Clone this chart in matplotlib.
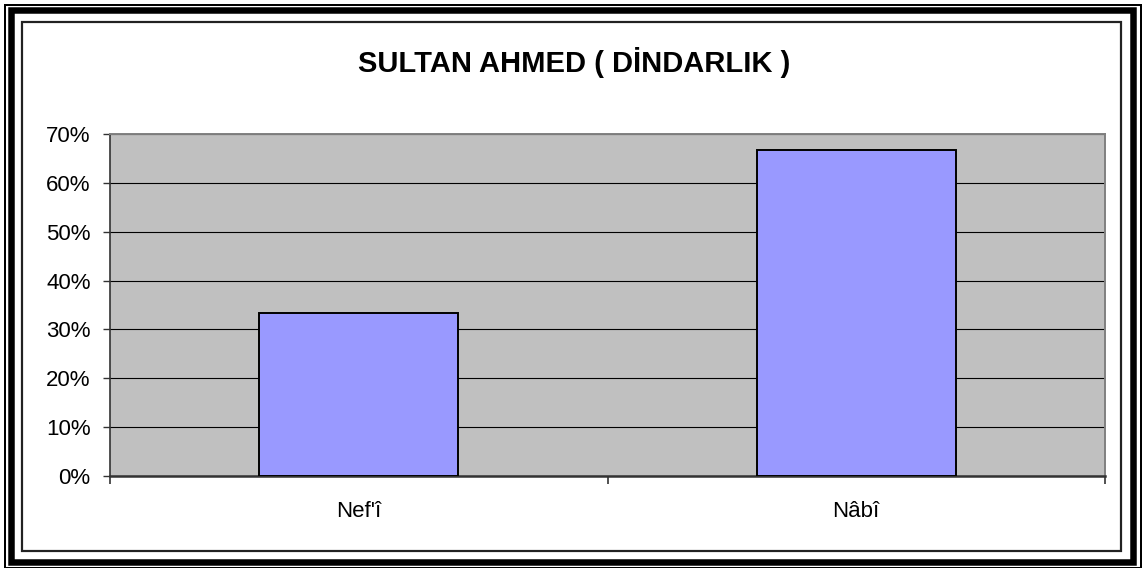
import matplotlib
matplotlib.use("Agg")
import matplotlib.pyplot as plt
from matplotlib.patches import Rectangle

categories = ["Nef'î", "Nâbî"]
values = [0.3333, 0.6667]
yticks = [0, 0.1, 0.2, 0.3, 0.4, 0.5, 0.6, 0.7]
ytick_labels = ["0%", "10%", "20%", "30%", "40%", "50%", "60%", "70%"]
title = "SULTAN AHMED ( DİNDARLIK )"

W, H = 1148, 568
plt.rcParams['font.family'] = ['Liberation Sans', 'DejaVu Sans']
fig = plt.figure(figsize=(W / 100, H / 100), dpi=100)

def rect(x0, y0, x1, y1, lw_px, color):
    fig.patches.append(Rectangle((x0 / W, 1 - y1 / H), (x1 - x0) / W, (y1 - y0) / H,
                                 transform=fig.transFigure, fill=False,
                                 edgecolor=color, linewidth=lw_px * 72 / 100))

# decorative page borders
rect(5, 4.5, 1141, 567.5, 2, 'black')
rect(11, 10, 1133, 561.5, 6.5, 'black')
rect(22, 22, 1121, 551, 2.2, '#222222')

ax = fig.add_axes([110 / W, 1 - 476 / H, (1105 - 110) / W, (476 - 134) / H])
ax.set_facecolor('#C0C0C0')
x = list(range(len(categories)))
ax.bar(x, values, width=0.4, color='#9999FF', edgecolor='black', linewidth=1.4, zorder=3)
ax.set_xlim(-0.5, 1.5)
ax.set_ylim(0, 0.7)
ax.set_yticks(yticks)
ax.set_yticklabels(ytick_labels, fontsize=16)
ax.yaxis.grid(True, color='black', linewidth=0.8, zorder=1)
ax.set_axisbelow(True)
ax.set_xticks([-0.5, 0.5, 1.5])
ax.set_xticklabels([])
ax.set_xticks(x, minor=True)
ax.set_xticklabels(categories, minor=True, fontsize=16)
ax.tick_params(axis='x', which='minor', length=0, pad=18)
ax.tick_params(axis='x', which='major', length=6, width=1.2, color='#333333', direction='out')
ax.tick_params(axis='y', length=5, width=1, color='#333333', pad=9)
for s in ['top', 'right']:
    ax.spines[s].set_color('#808080')
    ax.spines[s].set_linewidth(1.4)
ax.spines['left'].set_color('#333333')
ax.spines['left'].set_linewidth(1.2)
ax.spines['bottom'].set_color('#333333')
ax.spines['bottom'].set_linewidth(1.8)

fig.text(574 / W, 1 - 62 / H, title, ha='center', va='center', fontsize=21, fontweight='bold')

fig.savefig('out.png', dpi=100)
